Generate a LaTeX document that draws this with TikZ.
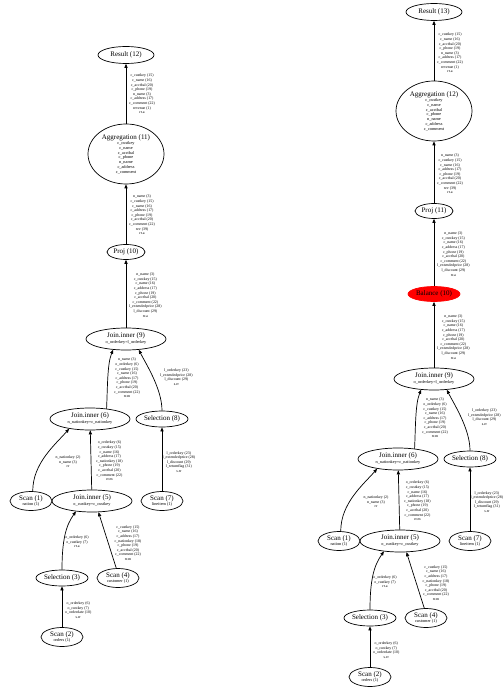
\documentclass[tikz,border=0pt]{standalone}
\usepackage{fontspec}
\setmainfont{Liberation Serif}
\usetikzlibrary{shapes.geometric,arrows.meta}
\newcommand\optitle{\fontsize{7}{8}\selectfont}
\newcommand\opsub{\fontsize{4.3}{4.75}\selectfont}
\newcommand\elab{\fontsize{3.9}{4.6}\selectfont}
\newcommand\ttl[1]{{\optitle #1}}
\tikzset{
 op/.style={ellipse, draw, line width=0.7pt, inner xsep=-8pt, inner ysep=-2pt, align=center, font=\opsub},
 resbox/.style={op, minimum width=56pt, minimum height=17pt},
 aggbox/.style={op, minimum width=76pt, minimum height=60pt},
 projbox/.style={op, minimum width=38pt, minimum height=15pt},
 joinbox/.style={op, minimum width=80pt, minimum height=22pt},
 selbox/.style={op, minimum width=52pt, minimum height=16pt},
 scanbox/.style={op, minimum width=42pt, minimum height=19pt},
 balbox/.style={op, draw=red, fill=red, minimum width=52pt, minimum height=15pt},
 lbl/.style={align=center, font=\elab, inner sep=0pt},
 arr/.style={line width=0.7pt, -{Triangle[length=4pt,width=3.2pt]}},
}
\newcommand\lowertree[1]{%
 \node[joinbox] (#1j9) at (126,339) {\ttl{Join.inner (9)}\\[1.2pt]o\_orderkey=l\_orderkey};
 \node[joinbox] (#1j6) at (90,419) {\ttl{Join.inner (6)}\\[1.2pt]n\_nationkey=c\_nationkey};
 \node[selbox] (#1s8) at (162,419) {\ttl{Selection (8)}};
 \node[scanbox] (#1c1) at (31,501) {\ttl{Scan (1)}\\[1.2pt]nation (1)};
 \node[joinbox] (#1j5) at (92,501) {\ttl{Join.inner (5)}\\[1.2pt]o\_custkey=c\_custkey};
 \node[scanbox] (#1c7) at (162,501) {\ttl{Scan (7)}\\[1.2pt]lineitem (1)};
 \node[selbox] (#1s3) at (62,578) {\ttl{Selection (3)}};
 \node[scanbox] (#1c4) at (118,578) {\ttl{Scan (4)}\\[1.2pt]customer (1)};
 \node[scanbox] (#1c2) at (62,637) {\ttl{Scan (2)}\\[1.2pt]orders (1)};
 % edges
 \draw[arr] (#1j6.32) .. controls +(1,-20) and +(-6,14) .. (#1j9.220);
 \draw[arr] (#1s8.north) .. controls +(0,-22) and +(7,14) .. (#1j9.320);
 \draw[arr] (#1c1.80) .. controls +(0,-28) and +(-14,16) .. (#1j6.205);
 \draw[arr] (#1j5) -- (#1j6);
 \draw[arr] (#1c7) -- (#1s8);
 \draw[arr] (#1s3.north) .. controls +(0,-30) and +(-10,14) .. (#1j5.213);
 \draw[arr] (#1c4.100) -- (#1j5.300);
 \draw[arr] (#1c2) -- (#1s3);
 % labels
 \node[lbl] (#1l4) at (127,378) {n\_name (3)\\o\_orderkey (6)\\c\_custkey (15)\\c\_name (16)\\c\_address (17)\\c\_phone (19)\\c\_acctbal (20)\\c\_comment (22)\\rr.m};
 \node[lbl, anchor=west] (#1l5) at (160,377) {l\_orderkey (23)\\l\_extendedprice (28)\\l\_discount (29)\\s.rr};
 \node[lbl] (#1l6) at (68,462) {n\_nationkey (2)\\n\_name (3)\\rr};
 \node[lbl, anchor=west] (#1l7) at (96,461) {o\_orderkey (6)\\c\_custkey (15)\\c\_name (16)\\c\_address (17)\\c\_nationkey (18)\\c\_phone (19)\\c\_acctbal (20)\\c\_comment (22)\\rr.m};
 \node[lbl, anchor=west] (#1l8) at (162.5,462) {l\_orderkey (23)\\l\_extendedprice (28)\\l\_discount (29)\\l\_returnflag (31)\\s.rr};
 \node[lbl] (#1l9) at (77,542) {o\_orderkey (6)\\o\_custkey (7)\\rr.a};
 \node[lbl] (#1l10) at (128,543) {c\_custkey (15)\\c\_name (16)\\c\_address (17)\\c\_nationkey (18)\\c\_phone (19)\\c\_acctbal (20)\\c\_comment (22)\\rr.m};
 \node[lbl, anchor=west] (#1l11) at (65,610) {o\_orderkey (6)\\o\_custkey (7)\\o\_orderdate (10)\\s.rr};
}
\newcommand\agglist{c\_custkey\\c\_name\\c\_acctbal\\c\_phone\\n\_name\\c\_address\\c\_comment}
\newcommand\reslabel{c\_custkey (15)\\c\_name (16)\\c\_acctbal (20)\\c\_phone (19)\\n\_name (3)\\c\_address (17)\\c\_comment (22)\\revenue (1)\\rr.a}
\newcommand\projlabel{n\_name (3)\\c\_custkey (15)\\c\_name (16)\\c\_address (17)\\c\_phone (19)\\c\_acctbal (20)\\c\_comment (22)\\rev (39)\\rr.a}
\newcommand\joinlabel{n\_name (3)\\c\_custkey (15)\\c\_name (16)\\c\_address (17)\\c\_phone (19)\\c\_acctbal (20)\\c\_comment (22)\\l\_extendedprice (28)\\l\_discount (29)\\rr.a}
\begin{document}
\begin{tikzpicture}[x=1pt,y=-1pt]
\useasboundingbox (0,0) rectangle (503,692);
\fill[white] (0,0) rectangle (503,692);
% left tree top
\node[resbox] (res12) at (126,55) {\ttl{Result (12)}};
\node[aggbox] (agg11) at (126,154) {\ttl{Aggregation (11)}\\[0.8pt]\agglist};
\node[projbox] (proj10) at (126,252) {\ttl{Proj (10)}};
\lowertree{L}
\draw[arr] (agg11) -- (res12);
\draw[arr] (proj10) -- (agg11);
\draw[arr] (Lj9) -- (proj10);
\node[lbl, anchor=west] (lab1) at (129,94) {\reslabel};
\node[lbl, anchor=west] (lab2) at (129,215) {\projlabel};
\node[lbl, anchor=west] (lab3) at (129,295) {\joinlabel};
% right tree top
\node[resbox] (res13) at (434,12) {\ttl{Result (13)}};
\node[aggbox] (agg12) at (434,111) {\ttl{Aggregation (12)}\\[0.8pt]\agglist};
\node[projbox] (proj11) at (434,211) {\ttl{Proj (11)}};
\node[balbox] (bal10) at (434,294) {\ttl{Balance (10)}};
\begin{scope}[shift={(308,40)}]
\lowertree{R}
\end{scope}
\draw[arr] (agg12) -- (res13);
\draw[arr] (proj11) -- (agg12);
\draw[arr] (bal10) -- (proj11);
\draw[arr] (Rj9) -- (bal10);
\node[lbl, anchor=west] (rlab1) at (437,53) {\reslabel};
\node[lbl, anchor=west] (rlab2) at (437,174) {\projlabel};
\node[lbl, anchor=west] (rlab3) at (437,254) {\joinlabel};
\node[lbl, anchor=west] (rlab4) at (437,337) {\joinlabel};
\end{tikzpicture}
\end{document}
